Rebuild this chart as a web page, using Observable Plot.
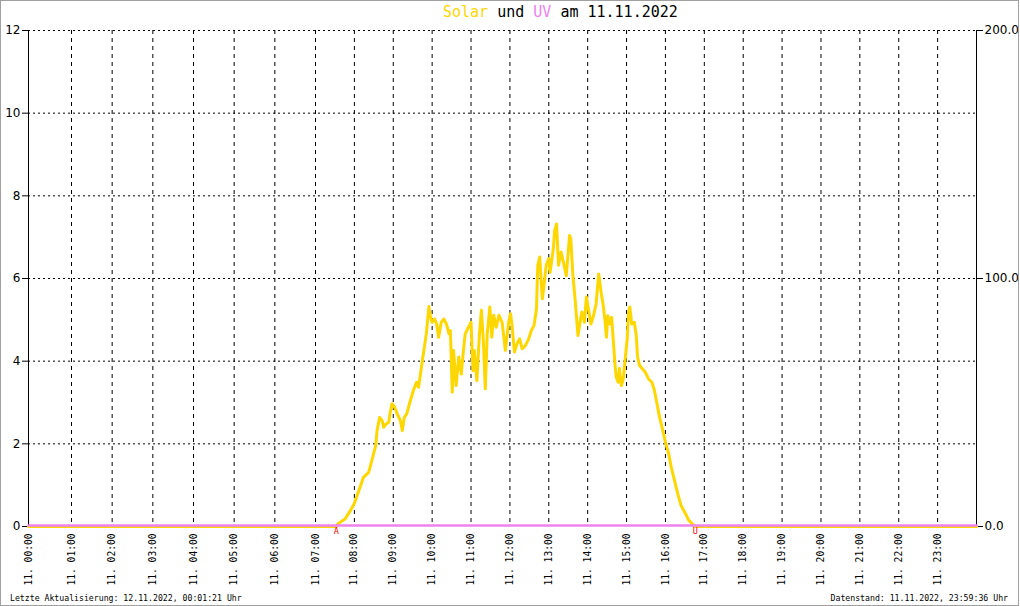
<!DOCTYPE html>
<html><head><meta charset="utf-8">
<script src="https://cdn.jsdelivr.net/npm/d3@7"></script>
<script src="https://cdn.jsdelivr.net/npm/@observablehq/plot@0.6"></script>
<style>
html,body{margin:0;padding:0;background:#fff;}
#wrap{position:relative;width:1020px;height:606px;overflow:hidden;background:#fff;}
#border{position:absolute;left:0;top:0;width:1019px;height:606px;box-sizing:border-box;border:1px solid #a0a0a0;pointer-events:none;}
#title{position:absolute;left:443px;top:2px;font:15px/20px "DejaVu Sans Mono",monospace;white-space:pre;color:#000;}
#chart{position:absolute;left:0;top:20px;}
.foot{position:absolute;top:593px;font:8.2px/10px "DejaVu Sans Mono",monospace;white-space:pre;color:#000;}
</style></head>
<body>
<div id="wrap">
<div id="title"><span style="color:#FFD700">Solar</span> und <span style="color:#EE82EE">UV</span> am 11.11.2022</div>
<div id="chart"></div>
<div class="foot" style="left:10px">Letzte Aktualisierung: 12.11.2022, 00:01:21 Uhr</div>
<div class="foot" style="right:12px">Datenstand: 11.11.2022, 23:59:36 Uhr</div>
<div id="border"></div>
</div>
<script>
// ---- data ----
const solarTimes = ["00:00","07:32","07:35","07:46","07:54","08:00","08:07","08:14","08:22","08:27","08:33","08:35","08:39","08:43","08:45","08:49","08:53","08:55","08:58","09:02","09:06","09:11","09:14","09:17","09:21","09:25","09:31","09:36","09:39","09:42","09:45","09:48","09:51","09:53","09:55","09:57","10:00","10:04","10:07","10:10","10:14","10:18","10:22","10:26","10:28","10:29","10:31","10:33","10:37","10:41","10:45","10:48","10:51","10:56","11:00","11:03","11:05","11:09","11:13","11:16","11:19","11:22","11:25","11:29","11:32","11:35","11:39","11:43","11:48","11:53","11:58","12:01","12:03","12:07","12:11","12:15","12:19","12:24","12:29","12:33","12:37","12:38","12:41","12:43","12:46","12:50","12:52","12:56","13:00","13:02","13:07","13:09","13:12","13:15","13:19","13:23","13:27","13:30","13:32","13:34","13:37","13:41","13:45","13:49","13:51","13:55","13:58","14:01","14:05","14:09","14:13","14:17","14:21","14:24","14:27","14:29","14:31","14:34","14:37","14:39","14:42","14:44","14:47","14:49","14:52","14:55","14:58","15:01","15:03","15:05","15:08","15:12","15:15","15:17","15:20","15:24","15:29","15:34","15:39","15:43","15:47","15:51","15:56","16:00","16:05","16:09","16:14","16:19","16:24","16:31","16:36","16:41","16:46","24:00"];
const solarValues = [0,0,0.07,0.19,0.39,0.56,0.87,1.19,1.31,1.60,1.96,2.32,2.64,2.56,2.40,2.48,2.52,2.73,2.97,2.89,2.73,2.56,2.32,2.64,2.73,2.97,3.29,3.49,3.37,3.69,4.02,4.34,4.66,4.98,5.32,5.10,4.94,5.02,4.90,4.58,4.94,5.02,4.90,4.66,4.74,4.34,3.25,4.26,3.41,4.10,3.69,4.22,4.66,4.82,4.94,3.77,4.26,3.53,4.66,5.23,4.50,3.33,4.66,5.31,4.58,5.11,4.82,5.11,4.94,4.26,4.94,5.15,4.90,4.22,4.42,4.54,4.30,4.38,4.54,4.74,4.86,4.94,5.27,6.32,6.52,5.51,5.75,6.32,6.48,6.15,6.72,7.16,7.32,6.32,6.64,6.36,6.07,6.64,7.04,6.96,6.11,5.43,4.62,5.02,5.19,4.94,5.55,5.27,4.90,5.10,5.39,6.11,5.63,5.35,4.94,4.58,5.10,4.90,5.06,4.62,3.95,3.62,3.49,3.82,3.41,3.58,4.06,4.54,5.19,5.31,4.90,4.94,4.62,4.10,3.90,3.82,3.73,3.57,3.49,3.29,2.97,2.64,2.32,2.04,1.76,1.43,1.11,0.79,0.51,0.31,0.15,0.07,0,0];
const uvTimes = ["00:00","24:00"];
const uvValues = [0,0];
const eventTimes = ["07:32","16:46"];
const eventLabels = ["A","U"];
const xTickHours = [0,1,2,3,4,5,6,7,8,9,10,11,12,13,14,15,16,17,18,19,20,21,22,23];
const xTickLabels = ["11. 00:00","11. 01:00","11. 02:00","11. 03:00","11. 04:00","11. 05:00","11. 06:00","11. 07:00","11. 08:00","11. 09:00","11. 10:00","11. 11:00","11. 12:00","11. 13:00","11. 14:00","11. 15:00","11. 16:00","11. 17:00","11. 18:00","11. 19:00","11. 20:00","11. 21:00","11. 22:00","11. 23:00"];
const leftTicks = [0,2,4,6,8,10,12];
const rightTicks = [0,100,200];
const rightTickLabels = ["0.0","100.0","200.0"];
const yMax = 12, uvMax = 200;

// ---- build ----
const toHours = s => { const [h, m] = s.split(":").map(Number); return h + m / 60; };
const solar = solarTimes.map((t, i) => ({h: toHours(t), v: solarValues[i]}));
const uv = uvTimes.map((t, i) => ({h: toHours(t), v: uvValues[i] * yMax / uvMax}));
const events = eventTimes.map((t, i) => ({h: toHours(t), v: 0, label: eventLabels[i]}));

const W = 1020, H = 572;
const chart = Plot.plot({
  width: W, height: H,
  marginLeft: 28, marginRight: 44, marginTop: 10, marginBottom: 66,
  style: {fontFamily: "DejaVu Sans", fontSize: "12px", color: "#000", background: "transparent"},
  x: {type: "linear", domain: [0, 1, 7, 24], range: [28, 71, 315, 976], axis: null},
  y: {domain: [0, yMax], range: [506, 10], axis: null},
  marks: [
    Plot.gridY(leftTicks.filter(d => d > 0), {stroke: "#000", strokeOpacity: 1, strokeDasharray: "2,3"}),
    Plot.gridX(xTickHours.filter(d => d > 0), {stroke: "#000", strokeOpacity: 1, strokeDasharray: "4,4"}),
    Plot.ruleX([0, 24], {stroke: "#000"}),
    Plot.axisY(leftTicks, {anchor: "left", tickSize: 6, tickPadding: 2, tickFormat: d => String(d), label: null, fontSize: 12}),
    Plot.axisY(rightTicks.map(v => v * yMax / uvMax), {anchor: "right", tickSize: 6, tickPadding: 2,
      tickFormat: d => rightTickLabels[rightTicks.indexOf(Math.round(d * uvMax / yMax))], label: null, fontSize: 12}),
    Plot.axisX(xTickHours, {anchor: "bottom", tickSize: 0, tickPadding: 7, tickRotate: -90,
      tickFormat: d => xTickLabels[xTickHours.indexOf(d)], label: null, fontFamily: "DejaVu Sans Mono", fontSize: 9.6}),
    Plot.line(solar, {x: "h", y: "v", stroke: "#FFD700", strokeWidth: 3}),
    Plot.line(uv, {x: "h", y: "v", stroke: "#EE82EE", strokeWidth: 2.5, dy: -1}),
    Plot.text(events, {x: "h", y: "v", text: "label", fill: "red", fontSize: 8.5, fontFamily: "DejaVu Sans Mono", lineAnchor: "top", dy: 1})
  ]
});
document.getElementById("chart").appendChild(chart);
</script>
</body></html>
